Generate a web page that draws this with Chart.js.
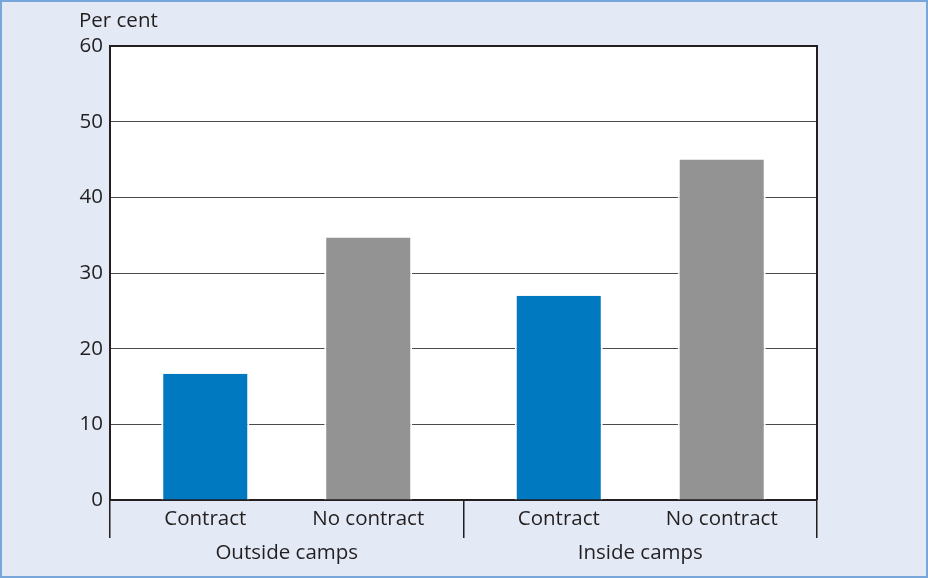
<!DOCTYPE html>
<html>
<head>
<meta charset="utf-8">
<script src="https://cdn.jsdelivr.net/npm/chart.js@4"></script>
<style>
  html, body { margin: 0; padding: 0; background: #e3e9f5; }
  #wrap { position: relative; width: 928px; height: 578px; }
  #frame { position: absolute; left: 0; top: 0; width: 928px; height: 578px; box-sizing: border-box;
           border: 2px solid #78a5da; pointer-events: none; }
  canvas { position: absolute; left: 0; top: 0; }
</style>
</head>
<body>
<div id="wrap">
  <canvas id="chart" width="928" height="578"></canvas>
  <div id="frame"></div>
</div>
<script>
// --- data ---
const groups = ['Outside camps', 'Inside camps'];
const seriesNames = ['Contract', 'No contract'];
const contractValues = [16.7, 27.0];
const noContractValues = [34.7, 45.0];
const yMin = 0, yMax = 60, yStep = 10;
const yUnit = 'Per cent';

const FONT = '"Open Sans", "Noto Sans", sans-serif';
const TEXT = '#231f20';

// white plot area + black frame + labels under each bar
const plotDecor = {
  id: 'plotDecor',
  beforeDraw(chart) {
    const { ctx, chartArea: a } = chart;
    ctx.save();
    ctx.fillStyle = '#fff';
    ctx.fillRect(a.left, a.top, a.right - a.left, a.bottom - a.top);
    ctx.restore();
  },
  afterDatasetsDraw(chart) {
    const { ctx, chartArea: a } = chart;
    ctx.save();
    ctx.strokeStyle = '#231f20';
    ctx.lineWidth = 2;
    ctx.beginPath();
    ctx.moveTo(a.left, a.top);
    ctx.lineTo(a.right, a.top);
    ctx.lineTo(a.right, a.bottom);
    ctx.stroke();

    ctx.font = '20.5px ' + FONT;
    ctx.fillStyle = TEXT;
    ctx.textAlign = 'center';
    ctx.textBaseline = 'middle';
    chart.data.datasets.forEach((ds, i) => {
      chart.getDatasetMeta(i).data.forEach(bar => {
        ctx.fillText(ds.label, bar.x, a.bottom + 19);
      });
    });

    ctx.textAlign = 'left';
    ctx.textBaseline = 'alphabetic';
    ctx.fillText(yUnit, a.left - 31, 27);
    ctx.restore();
  }
};

new Chart(document.getElementById('chart'), {
  type: 'bar',
  data: {
    labels: groups,
    datasets: [
      { label: seriesNames[0], data: contractValues, backgroundColor: '#0079c1' },
      { label: seriesNames[1], data: noContractValues, backgroundColor: '#939393' }
    ]
  },
  options: {
    responsive: false,
    animation: false,
    devicePixelRatio: 1,
    layout: { padding: { left: 0, top: 46, right: 111, bottom: 0 } },
    datasets: {
      bar: {
        categoryPercentage: 0.922,
        barPercentage: 0.54,
        borderWidth: { left: 2, right: 2, top: 0, bottom: 0 },
        borderColor: '#ffffff',
        borderSkipped: false
      }
    },
    plugins: {
      legend: { display: false },
      tooltip: { enabled: false }
    },
    scales: {
      x: {
        afterFit(scale) { scale.height = 78; },
        grid: {
          offset: true,
          drawOnChartArea: false,
          drawTicks: true,
          tickLength: 38,
          color: '#231f20',
          lineWidth: 1.5
        },
        border: { color: '#231f20', width: 2 },
        ticks: { color: TEXT, font: { family: FONT, size: 20.5 }, padding: 3, maxRotation: 0 }
      },
      y: {
        min: yMin,
        max: yMax,
        afterFit(scale) { scale.width = 110; },
        grid: { color: '#4a4a4a', lineWidth: 1, drawTicks: false },
        border: { color: '#231f20', width: 2 },
        ticks: { stepSize: yStep, color: TEXT, font: { family: FONT, size: 20.5 }, padding: 7 }
      }
    }
  },
  plugins: [plotDecor]
});
</script>
</body>
</html>
